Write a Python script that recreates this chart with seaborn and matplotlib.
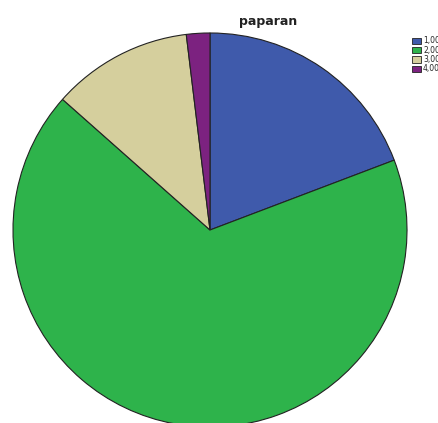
import matplotlib
matplotlib.use("Agg")
import matplotlib.pyplot as plt
import seaborn as sns
from matplotlib.patches import Patch

categories = ["1,00", "2,00", "3,00", "4,00"]
counts = [10, 35, 6, 1]
colors = ["#3F5AAB", "#2EB34B", "#D5CF9D", "#7C2280"]

sns.set_theme(style="white")
plt.rcParams["font.family"] = ["DejaVu Sans"]

W, H = 438, 423
fig = plt.figure(figsize=(W / 100, H / 100), dpi=100)
fig.patch.set_facecolor("white")

# pie centred at (210, 230) px, radius 198 px
cx, cy, r = 210, 230, 198
ax = fig.add_axes([(cx - r) / W, (H - cy - r) / H, 2 * r / W, 2 * r / H])
ax.pie(counts, colors=sns.color_palette(colors), startangle=90, counterclock=False,
       radius=1, wedgeprops=dict(edgecolor="#222222", linewidth=0.8))
ax.set_xlim(-1.005, 1.005)
ax.set_ylim(-1.005, 1.005)
ax.set_aspect("equal")
ax.axis("off")

fig.text(268 / W, 1 - 22 / H, "paparan", ha="center", va="center",
         fontsize=9, fontweight="bold", color="#222222")

handles = [Patch(facecolor=c, edgecolor="#222222", linewidth=0.6) for c in colors]
fig.legend(handles, categories, loc="upper left", bbox_to_anchor=(407 / W, 1 - 31 / H),
           frameon=False, fontsize=5.5, handlelength=1.1, handleheight=0.9,
           handletextpad=0.3, labelspacing=0.05, borderpad=0.2)

fig.savefig("out.png", dpi=100, facecolor="white")
